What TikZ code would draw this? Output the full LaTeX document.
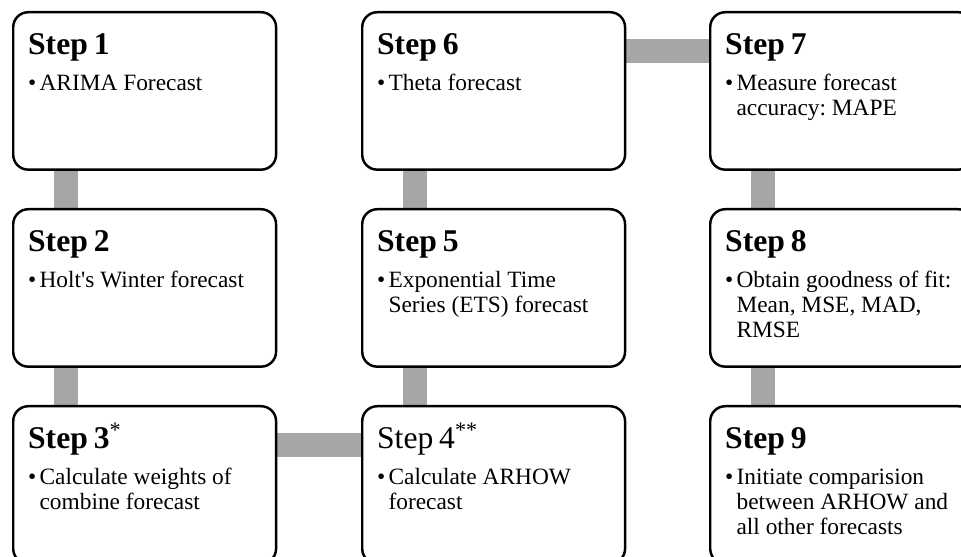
\documentclass[tikz,border=0pt]{standalone}
\usepackage{fontspec}
\setmainfont{Liberation Serif}
\usetikzlibrary{backgrounds}
\definecolor{bargray}{HTML}{A6A6A6}
\newcommand{\steptext}[2]{{\fontsize{18}{21}\selectfont #1\par}\vspace{6.8pt}%
  {\fontsize{13.3}{14.2}\selectfont\frenchspacing\noindent
   \makebox[6.5pt][l]{\textbullet}\begin{tabular}[t]{@{}l@{}}#2\end{tabular}\par}}
\tikzset{
  stepbox/.style={draw, line width=1.4pt, rounded corners=8.5pt, fill=white,
    anchor=north west, inner xsep=8.5pt, inner ysep=0pt, text width=132.6pt,
    text height=23.8pt, text depth=65.8pt},
  bar/.style={draw=bargray, line width=13.6pt}
}
\begin{document}
\begin{tikzpicture}[x=0.02cm,y=-0.02cm]
\useasboundingbox (0,0) rectangle (961,557);
\clip (0,0) rectangle (961,557);
\node(s1) at (12,11)[stepbox]  {\steptext{\textbf{Step 1}}{ARIMA Forecast}};
\node(s2) at (12,208)[stepbox] {\steptext{\textbf{Step 2}}{Holt\textquotesingle s Winter forecast}};
\node(s3) at (12,405)[stepbox] {\steptext{\textbf{Step 3}\textsuperscript{*}}{Calculate weights of\\combine forecast}};
\node(s4) at (361,405)[stepbox]{\steptext{Step 4\textsuperscript{**}}{Calculate ARHOW\\forecast}};
\node(s5) at (361,208)[stepbox]{\steptext{\textbf{Step 5}}{Exponential Time\\Series (ETS) forecast}};
\node(s6) at (361,11)[stepbox] {\steptext{\textbf{Step 6}}{Theta forecast}};
\node(s7) at (709,11)[stepbox] {\steptext{\textbf{Step 7}}{Measure forecast\\accuracy: MAPE}};
\node(s8) at (709,208)[stepbox]{\steptext{\textbf{Step 8}}{Obtain goodness of fit:\\Mean, MSE, MAD,\\RMSE}};
\node(s9) at (709,405)[stepbox]{\steptext{\textbf{Step 9}}{Initiate comparision\\between ARHOW and\\all other forecasts}};

\begin{scope}[on background layer]
\path [bar]
  ([xshift=30.6pt]s1.south west) edge ([xshift=30.6pt]s2.north west)
  ([xshift=30.6pt]s2.south west) edge ([xshift=30.6pt]s3.north west)
  ([yshift=-22.7pt]s3.north east) edge ([yshift=-22.7pt]s4.north west)
  ([xshift=30.6pt]s4.north west) edge ([xshift=30.6pt]s5.south west)
  ([xshift=30.6pt]s5.north west) edge ([xshift=30.6pt]s6.south west)
  ([yshift=-22.7pt]s6.north east) edge ([yshift=-22.7pt]s7.north west)
  ([xshift=30.6pt]s7.south west) edge ([xshift=30.6pt]s8.north west)
  ([xshift=30.6pt]s8.south west) edge ([xshift=30.6pt]s9.north west);
\end{scope}
\end{tikzpicture}
\end{document}
